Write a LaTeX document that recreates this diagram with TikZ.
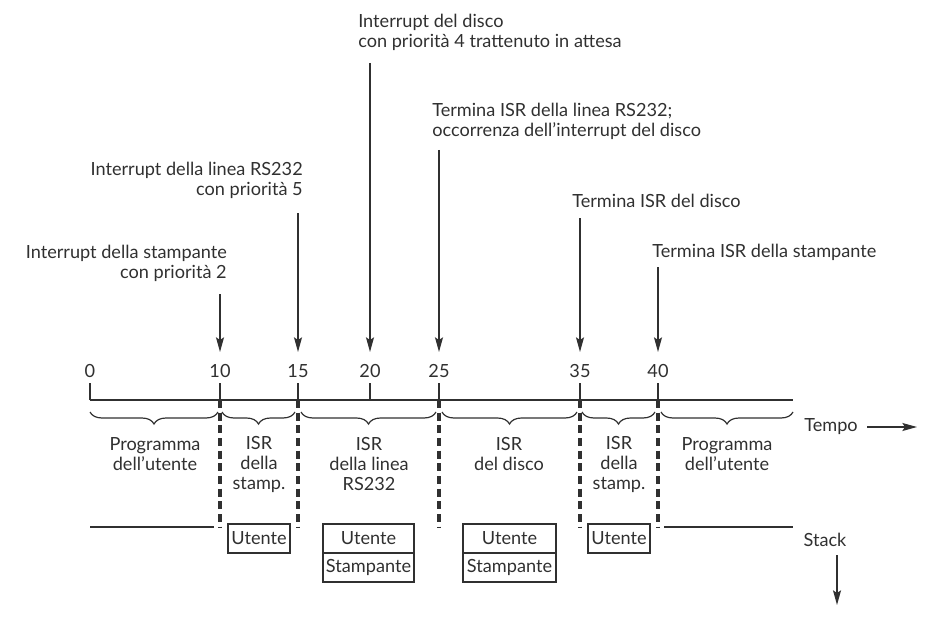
\documentclass[tikz,border=0pt]{standalone}
\usepackage{fontspec}
\setmainfont{Lato}
\usetikzlibrary{arrows.meta,decorations.pathreplacing}
\definecolor{ink}{HTML}{303030}
\begin{document}
\begin{tikzpicture}[x=0.75pt,y=-0.75pt,
  txt/.style={inner sep=0pt, text=ink, font=\fontsize{13.6}{15}\selectfont},
  evarrow/.style={draw=ink, line width=1.1pt, -{Stealth[length=11pt,width=6pt,inset=2pt]}},
  axisline/.style={draw=ink, line width=2pt},
  tickline/.style={draw=ink, line width=1.1pt},
  sepline/.style={draw=ink, line width=2.3pt, dash pattern=on 6pt off 3.5pt},
  bracestyle/.style={draw=ink, line width=0.9pt, decorate, decoration={brace, mirror, amplitude=9pt}},
  stackline/.style={draw=ink, line width=0.9pt},
  stackbox/.style={txt, draw=ink, line width=2.2pt, minimum height=21.75pt},
]
\useasboundingbox (0,0) rectangle (937,620);

% axis coordinates
\coordinate (t0) at (90,400);
\coordinate (t10) at (220,400);
\coordinate (t15) at (298,400);
\coordinate (t20) at (370,400);
\coordinate (t25) at (439,400);
\coordinate (t35) at (580,400);
\coordinate (t40) at (658,400);
\coordinate (tend) at (793,400);

\draw[axisline] (t0) -- (tend);
\foreach \t in {0,10,15,20,25,35,40}{
  \draw[tickline] (t\t) -- ++(0,-17) coordinate (k\t);
  \node[txt] (n\t) at ([yshift=9pt]k\t) {\t};
}

% event arrows
\coordinate (s10) at (220,294);
\coordinate (s15) at (298,213);
\coordinate (s20) at (370,63);
\coordinate (s25) at (439,150);
\coordinate (s35) at (580,218);
\coordinate (s40) at (658,267);
\foreach \t in {10,15,20,25,35,40}{
  \coordinate (e\t) at ([yshift=23.25pt]k\t);
  \draw[evarrow] (s\t) -- (e\t);
}

\node[txt, anchor=east, align=right] (L10) at (227,263) {Interrupt della stampante\\con priorità 2};
\node[txt, anchor=east, align=right] (L15) at (303,180) {Interrupt della linea RS232\\con priorità 5};
\node[txt, anchor=west, align=left] (L20) at (358,32) {Interrupt del disco\\con priorità 4 trattenuto in attesa};
\node[txt, anchor=west, align=left] (L25) at (432,121) {Termina ISR della linea RS232;\\occorrenza dell’interrupt del disco};
\node[txt, anchor=west] (L35) at (572,201) {Termina ISR del disco};
\node[txt, anchor=west] (L40) at (652,252) {Termina ISR della stampante};

% braces
\draw[bracestyle] (90,412) -- (218,412);
\draw[bracestyle] (222,412) -- (295,412);
\draw[bracestyle] (301,412) -- (436,412);
\draw[bracestyle] (442,412) -- (577,412);
\draw[bracestyle] (582,412) -- (655,412);
\draw[bracestyle] (661,412) -- (793,412);

\node[txt, align=center] (R1) at (155,454) {Programma\\dell’utente};
\node[txt, align=center] (R2) at (259,464) {ISR\\della\\stamp.};
\node[txt, align=center] (R3) at (369,464) {ISR\\della linea\\RS232};
\node[txt, align=center] (R4) at (509,454) {ISR\\del disco};
\node[txt, align=center] (R5) at (619,464) {ISR\\della\\stamp.};
\node[txt, align=center] (R6) at (727,454) {Programma\\dell’utente};

% separators
\foreach \t in {10,15,25,35,40}{
  \draw[sepline] (t\t) -- ++(0,127) coordinate (d\t);
}

% stack lines
\coordinate (sl1) at (90,527);
\coordinate (sl2) at (214,527);
\coordinate (sr1) at (664,527);
\coordinate (sr2) at (793,527);
\draw[stackline] (sl1) -- (sl2);
\draw[stackline] (sr1) -- (sr2);

% stack boxes
\node[stackbox, minimum width=46.5pt] (B1) at (259,538.5) {Utente};
\node[stackbox, minimum width=68.25pt] (B2a) at (368.5,538.5) {Utente};
\node[stackbox, minimum width=68.25pt] (B2b) at (368.5,567.5) {Stampante};
\node[stackbox, minimum width=69.75pt] (B3a) at (509.5,538.5) {Utente};
\node[stackbox, minimum width=69.75pt] (B3b) at (509.5,567.5) {Stampante};
\node[stackbox, minimum width=46.5pt] (B4) at (619,538.5) {Utente};

% Tempo / Stack
\node[txt] (tempo) at (831,427) {Tempo};
\coordinate (ta1) at (867,427);
\coordinate (ta2) at (917,427);
\draw[evarrow] (ta1) -- (ta2);
\node[txt] (stack) at (825,540) {Stack};
\coordinate (sa1) at (837,555);
\coordinate (sa2) at (837,605);
\draw[evarrow] (sa1) -- (sa2);
\end{tikzpicture}
\end{document}
